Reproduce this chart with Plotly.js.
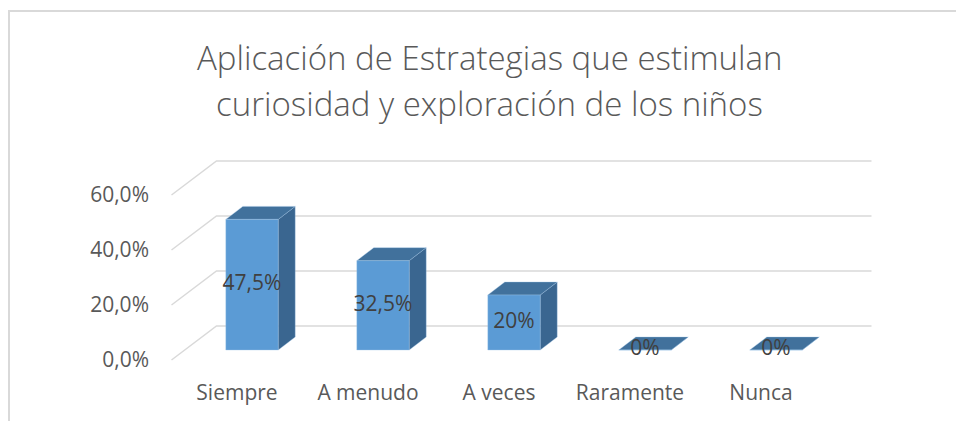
<!DOCTYPE html>
<html>
<head>
<meta charset="utf-8">
<script src="https://cdn.plot.ly/plotly-3.0.1.min.js"></script>
<style>
  html, body { margin: 0; padding: 0; background: #ffffff; }
  #chart { width: 956px; height: 421px; }
</style>
</head>
<body>
<div id="chart"></div>
<script>
// ---- data ----
const categories = ['Siempre', 'A menudo', 'A veces', 'Raramente', 'Nunca'];
const values = [0.475, 0.325, 0.20, 0, 0];
const valueLabels = ['47,5%', '32,5%', '20%', '0%', '0%'];
const tickValues = [0, 0.2, 0.4, 0.6];
const titleLines = ['Aplicación de Estrategias que estimulan', 'curiosidad y exploración de los niños'];

// ---- geometry (pixels) ----
const W = 956, H = 421;
const plotL = 150, plotR = 900, plotT = 150, plotB = 370;
const pxPerCat = 131;        // horizontal spacing between categories
const pxPerUnit = 275;       // vertical pixels per 100%
const firstCatPx = 237;      // pixel x of first category on front plane
const zeroPx = 360;          // pixel y of 0% on front plane
const wallDepth = [45, 34];  // offset of back wall (px right, px up)
const barFront = [15, 10];   // offset of bar front face
const barBack = [32, 23];    // offset of bar back face
const halfBar = 0.2;         // half bar width in category units

const xRange = [(plotL - firstCatPx) / pxPerCat, (plotR - firstCatPx) / pxPerCat];
const yRange = [(zeroPx - plotB) / pxPerUnit, (zeroPx - plotT) / pxPerUnit];

function P(x, v, off) {
  return [x + off[0] / pxPerCat, v + off[1] / pxPerUnit];
}

const traces = [];

// back wall gridlines (floor-to-wall diagonal + horizontal)
tickValues.forEach(function (t) {
  const a = P(-0.5, t, [0, 0]);
  const b = P(-0.5, t, wallDepth);
  const c = P(categories.length - 0.5, t, wallDepth);
  traces.push({
    type: 'scatter', mode: 'lines',
    x: [a[0], b[0], c[0]], y: [a[1], b[1], c[1]],
    line: { color: '#d9d9d9', width: 1.5 },
    hoverinfo: 'skip', showlegend: false
  });
});

function face(pts, color) {
  const xs = pts.map(p => p[0]); const ys = pts.map(p => p[1]);
  xs.push(xs[0]); ys.push(ys[0]);
  return {
    type: 'scatter', mode: 'lines', fill: 'toself',
    x: xs, y: ys, fillcolor: color,
    line: { color: 'rgba(160,195,230,0.6)', width: 0.6 },
    hoverinfo: 'skip', showlegend: false
  };
}

values.forEach(function (v, i) {
  const L = i - halfBar, R = i + halfBar;
  // side face
  traces.push(face([P(R, 0, barFront), P(R, v, barFront), P(R, v, barBack), P(R, 0, barBack)], '#3A6690'));
  // top face
  traces.push(face([P(L, v, barFront), P(R, v, barFront), P(R, v, barBack), P(L, v, barBack)], '#41719C'));
  // front face
  traces.push(face([P(L, 0, barFront), P(R, 0, barFront), P(R, v, barFront), P(L, v, barFront)], '#5B9BD5'));
});

// data labels
traces.push({
  type: 'scatter', mode: 'text',
  x: values.map((v, i) => P(i, v / 2, barFront)[0]),
  y: values.map((v, i) => P(i, v / 2, barFront)[1]),
  text: valueLabels,
  textposition: 'middle center',
  textfont: { family: 'Open Sans, sans-serif', size: 21, color: '#404040' },
  cliponaxis: false,
  hoverinfo: 'skip', showlegend: false
});

function paperY(py) { return (plotB - py) / (plotB - plotT); }
function paperX(px) { return (px - plotL) / (plotR - plotL); }

const layout = {
  width: W, height: H,
  margin: { l: plotL, r: W - plotR, t: plotT, b: H - plotB, pad: 0 },
  paper_bgcolor: '#ffffff', plot_bgcolor: 'rgba(0,0,0,0)',
  separators: ',.',
  showlegend: false,
  font: { family: 'Open Sans, sans-serif', color: '#595959' },
  xaxis: {
    range: xRange, fixedrange: true,
    tickmode: 'array', tickvals: categories.map((c, i) => i), ticktext: categories,
    showgrid: false, zeroline: false, showline: false, ticks: '',
    tickfont: { size: 21, color: '#595959' },
    ticklabelstandoff: 8
  },
  yaxis: {
    range: yRange, fixedrange: true,
    tickmode: 'array', tickvals: tickValues, tickformat: '.1%',
    showgrid: false, zeroline: false, showline: false, ticks: '',
    tickfont: { size: 21, color: '#595959' },
    ticklabelstandoff: 0
  },
  annotations: titleLines.map(function (t, k) {
    return {
      text: t, showarrow: false,
      xref: 'paper', yref: 'paper',
      x: paperX(489), y: paperY(k === 0 ? 57 : 103),
      xanchor: 'center', yanchor: 'middle',
      font: { family: 'Open Sans, sans-serif', size: 33, weight: 300, color: '#595959' }
    };
  }),
  shapes: [{
    type: 'path', xref: 'paper', yref: 'paper',
    path: 'M ' + paperX(9) + ' ' + paperY(H + 5) + ' L ' + paperX(9) + ' ' + paperY(11) + ' L ' + paperX(W + 5) + ' ' + paperY(11),
    line: { color: '#d9d9d9', width: 2 }
  }]
};

Plotly.newPlot('chart', traces, layout, { displayModeBar: false, staticPlot: true });
</script>
</body>
</html>
